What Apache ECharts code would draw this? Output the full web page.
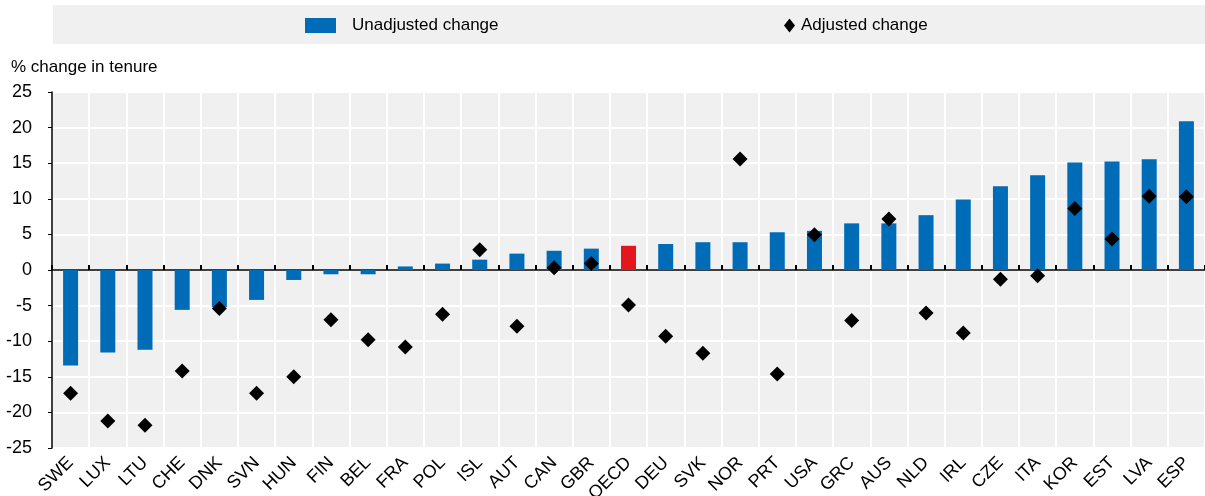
<!DOCTYPE html>
<html>
<head>
<meta charset="utf-8">
<script src="https://cdn.jsdelivr.net/npm/echarts@6/dist/echarts.min.js"></script>
<style>
  html, body { margin: 0; padding: 0; background: #fff; }
  #chart { width: 1205px; height: 496px; }
</style>
</head>
<body>
<div id="chart"></div>
<script>
// 国家代码
const countries = ["SWE","LUX","LTU","CHE","DNK","SVN","HUN","FIN","BEL","FRA","POL","ISL","AUT","CAN","GBR","OECD","DEU","SVK","NOR","PRT","USA","GRC","AUS","NLD","IRL","CZE","ITA","KOR","EST","LVA","ESP"];
// 未调整变化（柱）
const unadjusted = [-13.4,-11.6,-11.2,-5.6,-5.2,-4.2,-1.4,-0.6,-0.6,0.5,0.9,1.45,2.3,2.7,3.0,3.4,3.65,3.9,3.9,5.3,5.5,6.55,6.55,7.7,9.9,11.75,13.3,15.1,15.25,15.55,20.9];
// 调整后变化（菱形）
const adjusted = [-17.3,-21.2,-21.8,-14.2,-5.4,-17.3,-15.0,-7.0,-9.8,-10.8,-6.2,2.85,-7.9,0.3,0.9,-4.9,-9.3,-11.7,15.6,-14.6,4.95,-7.1,7.15,-6.05,-8.85,-1.3,-0.8,8.65,4.35,10.35,10.3];
const yTicks = [-25, 25, 5]; // min, max, interval

const FONT = "'Liberation Sans', Arial, sans-serif";
const BLUE = "#006BB6";
const RED = "#E3161E";

const chart = echarts.init(document.getElementById("chart"));

const barData = unadjusted.map((v, i) => {
  if (countries[i] === "OECD") {
    return { value: v, itemStyle: { color: RED } };
  }
  return v;
});

const option = {
  animation: false,
  graphic: [
    {
      type: "rect",
      shape: { x: 53, y: 5, width: 1152, height: 39 },
      style: { fill: "#f0f0f0" },
      z: -1
    },
    {
      type: "text",
      left: 11,
      top: 59,
      style: { text: "% change in tenure", font: "17px " + FONT, fill: "#000" }
    }
  ],
  legend: [
    {
      data: [{ name: "Unadjusted change", icon: "rect" }],
      left: 305,
      top: 17,
      padding: 0,
      itemWidth: 31,
      itemHeight: 15,
      textStyle: { fontFamily: FONT, fontSize: 17, color: "#000", padding: [0, 0, 0, 11] }
    },
    {
      data: [{ name: "Adjusted change", icon: "diamond" }],
      left: 784,
      top: 17,
      padding: 0,
      itemWidth: 11,
      itemHeight: 14,
      textStyle: { fontFamily: FONT, fontSize: 17, color: "#000", padding: [0, 0, 0, 1] }
    }
  ],
  grid: {
    left: 52,
    right: 0,
    top: 92,
    bottom: 48,
    outerBoundsMode: "none",
    show: true,
    backgroundColor: "#f0f0f0",
    borderWidth: 0
  },
  xAxis: {
    type: "category",
    data: countries,
    axisLine: { onZero: true, lineStyle: { color: "#000", width: 1.5 } },
    axisTick: { show: true, inside: true, length: 5, lineStyle: { color: "#000", width: 2 } },
    splitLine: { show: true, lineStyle: { color: "#fff", width: 2 } },
    axisLabel: {
      rotate: 45,
      interval: 0,
      margin: 12,
      color: "#000",
      fontFamily: FONT,
      fontSize: 18
    }
  },
  yAxis: {
    type: "value",
    min: yTicks[0],
    max: yTicks[1],
    interval: yTicks[2],
    axisLine: { show: true, lineStyle: { color: "#000", width: 1.5 } },
    axisTick: { show: true, length: 4, lineStyle: { color: "#000" } },
    splitLine: { show: true, lineStyle: { color: "#fff", width: 2 } },
    axisLabel: {
      margin: 20,
      color: "#000",
      fontFamily: FONT,
      fontSize: 18
    }
  },
  series: [
    {
      name: "Unadjusted change",
      type: "bar",
      data: barData,
      barWidth: 15,
      itemStyle: { color: BLUE },
      z: 2
    },
    {
      name: "Adjusted change",
      type: "scatter",
      data: adjusted,
      symbol: "diamond",
      symbolSize: 15,
      itemStyle: { color: "#000", opacity: 1 },
      z: 3
    }
  ]
};

chart.setOption(option);
</script>
</body>
</html>
